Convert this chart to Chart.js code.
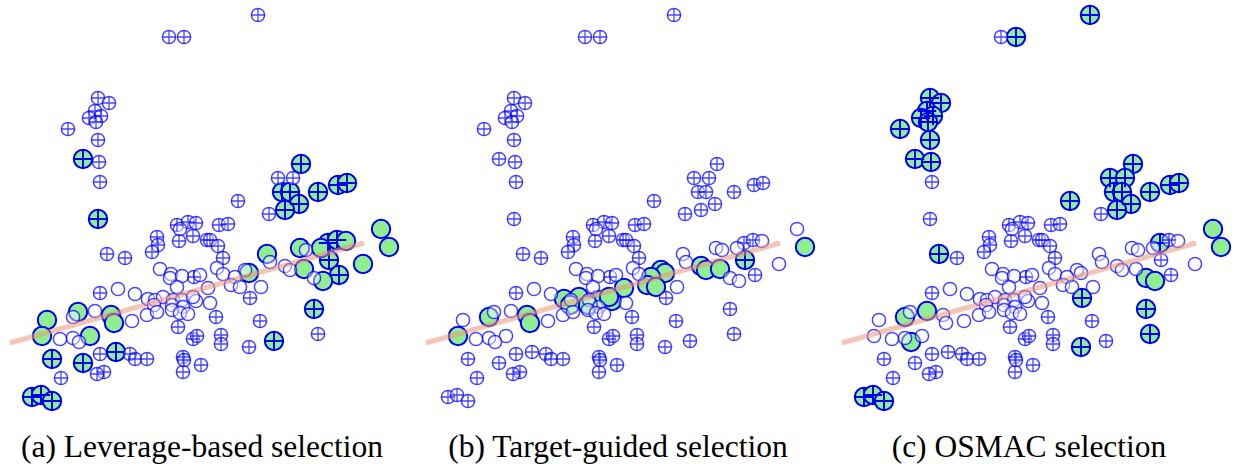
<!DOCTYPE html>
<html>
<head>
<meta charset="utf-8">
<script src="https://cdn.jsdelivr.net/npm/chart.js@4.4.1/dist/chart.umd.min.js"></script>
<style>
  body { margin: 0; background: #fff; width: 1238px; height: 464px; position: relative; overflow: hidden; }
  canvas { position: absolute; top: 0; }
  .cap {
    position: absolute; top: 431px; line-height: 1; white-space: nowrap;
    font-family: 'Liberation Serif', 'DejaVu Serif', serif; font-size: 31.5px; color: #000;
    transform: translateX(-50%);
  }
</style>
</head>
<body>
<canvas id="panelA" width="416" height="412" style="left:0px"></canvas>
<canvas id="panelB" width="416" height="412" style="left:416px"></canvas>
<canvas id="panelC" width="406" height="412" style="left:832px"></canvas>
<div class="cap" id="capA" style="left:202px"></div>
<div class="cap" id="capB" style="left:618px"></div>
<div class="cap" id="capC" style="left:1029px"></div>

<script>
// ── Data ─────────────────────────────────────────────────────────────────────
// Same point cloud in every panel; x to the right, y measured downward.
const crossX = [169, 184, 258,  98, 109,  95, 101,  89,  96,  68,  98,  83,  99, 100,  98,
                301, 278, 293, 238, 282, 290, 299, 318, 338, 347, 285, 269, 177, 188, 196,
                157, 158, 152, 179, 193, 207, 107, 125, 219, 228, 210, 218, 223, 194, 100,
                250, 216, 178, 193, 197, 221, 221, 260, 318, 314, 274, 249, 201,  52,  83,
                116, 100, 130, 135, 147, 183, 183, 104,  97,  61,  32,  41,  52, 328, 337,
                329, 339, 184];
const crossY = [ 37,  37,  15,  98, 103, 111, 116, 118, 122, 129, 140, 159, 162, 182, 219,
                164, 178, 178, 201, 192, 192, 204, 192, 185, 183, 210, 214, 225, 222, 223,
                237, 245, 252, 241, 236, 240, 254, 258, 225, 224, 240, 246, 258, 277, 293,
                298, 317, 327, 339, 336, 335, 344, 321, 334, 309, 341, 347, 365, 359, 363,
                352, 354, 354, 359, 359, 357, 372, 372, 374, 378, 397, 395, 401, 243, 240,
                260, 275, 360];

const openX = [381, 389, 300, 306, 321, 346, 267, 270, 285, 290, 304, 314, 323, 363, 245,
               249, 217, 223, 235, 231, 240, 261, 208, 200, 210, 196, 160, 171, 170, 182,
               177, 118, 135, 148, 155, 163, 173, 182, 193, 154, 172, 183, 147, 157, 172,
               180, 188,  78,  73,  95,  47, 111, 114, 132,  42,  90,  60,  73,  79, 180];
const openY = [229, 247, 248, 250, 248, 241, 254, 262, 266, 270, 269, 278, 281, 264, 270,
               273, 268, 274, 277, 285, 287, 287, 288, 275, 303, 301, 269, 274, 278, 276,
               287, 289, 294, 299, 300, 297, 300, 300, 297, 305, 305, 307, 315, 312, 310,
               313, 314, 312, 317, 311, 320, 315, 323, 321, 336, 336, 339, 338, 342, 229];

// Fitted regression line (end points)
const fitX = [10, 364];
const fitY = [343, 243];

// Selected points per panel (indices into the crossed / open lists)
const selCrossA = [11, 14, 15, 19, 20, 21, 22, 23, 24, 25, 54, 55, 58, 59, 60, 70, 71, 72, 73, 74, 75, 76];
const selOpenA  = [0, 1, 2, 4, 5, 6, 10, 12, 13, 15, 47, 50, 51, 52, 54, 55];
const selCrossB = [75];
const selOpenB  = [1, 8, 9, 10, 14, 15, 18, 19, 20, 22, 25, 33, 35, 37, 38, 39, 40, 48, 51, 52, 54];
const selCrossC = [1, 2, 3, 4, 5, 6, 7, 8, 9, 10, 11, 12, 15, 16, 17, 18, 19, 20, 21, 22, 23, 24, 25,
                   36, 45, 53, 54, 56, 70, 71, 72, 73];
const selOpenC  = [0, 1, 11, 12, 48, 49, 58];

const captions = ['(a) Leverage-based selection', '(b) Target-guided selection', '(c) OSMAC selection'];

// ── Styles ───────────────────────────────────────────────────────────────────
const BASE_EDGE = 'rgba(0,0,255,0.72)';
const BASE_FILL = 'rgba(255,255,255,0.45)';
const SEL_EDGE  = '#0000f0';
const SEL_FILL  = '#90ee90';
const FIT_COLOR = 'rgba(233,150,122,0.55)';
const BASE_R = 6.6;
const SEL_R = 9.2;

// ── Panels ───────────────────────────────────────────────────────────────────
function pts(xs, ys, idx) {
  return idx.map(i => ({ x: xs[i], y: ys[i] }));
}

function makePanel(id, selCross, selOpen) {
  const canvas = document.getElementById(id);
  const crossAll = crossX.map((_, i) => i);
  const openAll = openX.map((_, i) => i);
  const restCross = crossAll.filter(i => !selCross.includes(i));
  const restOpen = openAll.filter(i => !selOpen.includes(i));

  const baseCircles = pts(crossX, crossY, restCross).concat(pts(openX, openY, restOpen));
  const selCircles = pts(crossX, crossY, selCross).concat(pts(openX, openY, selOpen));

  new Chart(canvas, {
    type: 'scatter',
    data: {
      datasets: [
        {
          // fitted line on top
          data: fitX.map((x, i) => ({ x, y: fitY[i] })),
          showLine: true, borderColor: FIT_COLOR, borderWidth: 5,
          pointRadius: 0, order: 0, clip: false
        },
        {
          data: pts(crossX, crossY, restCross),
          pointStyle: 'cross', pointRadius: BASE_R, borderColor: BASE_EDGE, borderWidth: 1.3,
          order: 1, clip: false
        },
        {
          data: baseCircles,
          pointStyle: 'circle', pointRadius: BASE_R, backgroundColor: BASE_FILL,
          borderColor: BASE_EDGE, borderWidth: 1.5, order: 2, clip: false
        },
        {
          data: pts(crossX, crossY, selCross),
          pointStyle: 'cross', pointRadius: SEL_R, borderColor: SEL_EDGE, borderWidth: 2,
          order: 3, clip: false
        },
        {
          data: selCircles,
          pointStyle: 'circle', pointRadius: SEL_R, backgroundColor: SEL_FILL,
          borderColor: SEL_EDGE, borderWidth: 2, order: 4, clip: false
        }
      ]
    },
    options: {
      responsive: false,
      animation: false,
      events: [],
      layout: { padding: 0, autoPadding: false },
      plugins: { legend: { display: false }, tooltip: { enabled: false } },
      scales: {
        x: { type: 'linear', display: false, min: 0, max: canvas.width },
        y: { type: 'linear', display: false, min: 0, max: canvas.height, reverse: true }
      }
    }
  });
}

makePanel('panelA', selCrossA, selOpenA);
makePanel('panelB', selCrossB, selOpenB);
makePanel('panelC', selCrossC, selOpenC);

document.getElementById('capA').textContent = captions[0];
document.getElementById('capB').textContent = captions[1];
document.getElementById('capC').textContent = captions[2];
</script>
</body>
</html>
